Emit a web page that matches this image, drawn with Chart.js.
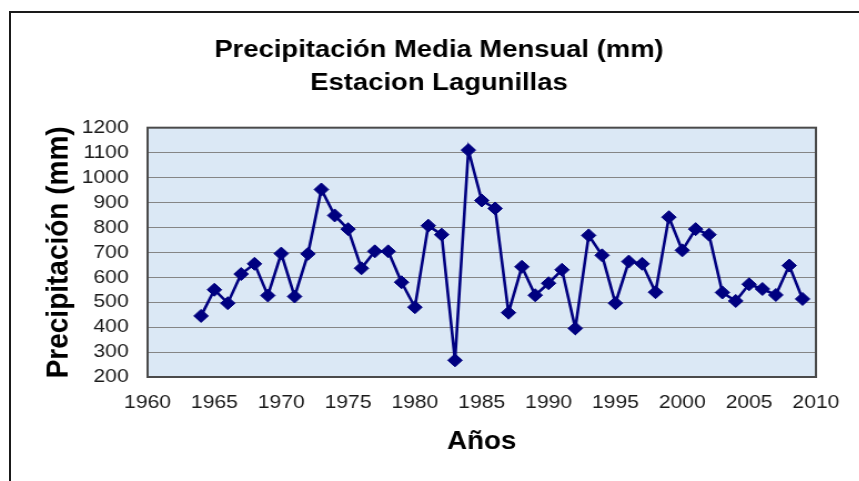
<!DOCTYPE html>
<html lang="es">
<head>
<meta charset="utf-8">
<title>Precipitación Media Mensual (mm) - Estacion Lagunillas</title>
<script src="https://cdn.jsdelivr.net/npm/chart.js@4/dist/chart.umd.min.js"></script>
<style>
  html, body { margin: 0; padding: 0; background: #fff; overflow: hidden; }
  body { width: 859px; height: 481px; position: relative; }
  /* chart object frame, running off the right and bottom of the page */
  #frame {
    position: absolute; left: 9px; top: 11px;
    width: 900px; height: 520px;
    border: 2px solid #1a1a1a;
  }
  #chart { position: absolute; left: 0; top: 0; }
</style>
</head>
<body>
<div id="frame">
  <!-- bitmap is drawn narrower and widened by CSS (wide-font look) -->
  <canvas id="chart" width="771" height="468" style="width:856px;height:468px"></canvas>
</div>
<script>
// Años de la serie
const years = [
  1964, 1965, 1966, 1967, 1968, 1969, 1970, 1971, 1972, 1973,
  1974, 1975, 1976, 1977, 1978, 1979, 1980, 1981, 1982, 1983,
  1984, 1985, 1986, 1987, 1988, 1989, 1990, 1991, 1992, 1993,
  1994, 1995, 1996, 1997, 1998, 1999, 2000, 2001, 2002, 2003,
  2004, 2005, 2006, 2007, 2008, 2009
];

// Precipitación media mensual (mm) por año
const precipitation = [
  445, 550, 496, 613, 654, 527, 695, 523, 694, 952,
  848, 793, 636, 704, 704, 580, 480, 807, 771, 267,
  1110, 908, 876, 458, 642, 528, 576, 630, 395, 768,
  688, 496, 663, 654, 540, 841, 708, 793, 771, 539,
  505, 572, 553, 529, 647, 513
];

// Ejes
const xTicks = { min: 1960, max: 2010, step: 5 };
const yTicks = { min: 200, max: 1200, step: 100 };

const titleLines = ['Precipitación Media Mensual (mm)', 'Estacion Lagunillas'];
const xTitle = 'Años';
const yTitle = 'Precipitación (mm)';

const points = years.map((y, i) => ({ x: y, y: precipitation[i] }));

// Fondo azul claro del área de trazado y su marco
const plotFrame = {
  id: 'plotFrame',
  beforeDraw(chart) {
    const { ctx, chartArea: a } = chart;
    ctx.save();
    ctx.fillStyle = '#dbe8f5';
    ctx.fillRect(a.left, a.top, a.right - a.left, a.bottom - a.top);
    ctx.restore();
  },
  beforeDatasetsDraw(chart) {
    const { ctx, chartArea: a } = chart;
    ctx.save();
    ctx.strokeStyle = '#4a4a4a';
    ctx.lineWidth = 2;
    ctx.strokeRect(a.left, a.top, a.right - a.left, a.bottom - a.top);
    ctx.restore();
  }
};

const FONT = '"Liberation Sans", Arial, sans-serif';

new Chart(document.getElementById('chart'), {
  type: 'line',
  data: {
    datasets: [{
      data: points,
      yAxisID: 'y',
      borderColor: '#000080',
      backgroundColor: '#000080',
      borderWidth: 2.6,
      tension: 0,
      pointStyle: 'rectRot',
      pointRadius: 6.5,
      pointBorderWidth: 1,
      pointBackgroundColor: '#000080',
      pointBorderColor: '#000080',
      fill: false
    }]
  },
  options: {
    responsive: false,
    maintainAspectRatio: false,
    devicePixelRatio: 1,
    animation: false,
    events: [],
    layout: { padding: 0 },
    plugins: {
      legend: { display: false },
      tooltip: { enabled: false },
      title: {
        display: true,
        text: titleLines,
        color: '#000',
        font: { family: FONT, size: 24.7, weight: 'bold', lineHeight: 1.36 },
        padding: { top: 20, bottom: 27.5 }
      }
    },
    scales: {
      x: {
        type: 'linear',
        min: xTicks.min,
        max: xTicks.max,
        afterFit(s) { s.height = 104; },
        grid: { display: false, drawTicks: false },
        border: { display: false },
        ticks: {
          stepSize: xTicks.step,
          autoSkip: false,
          maxRotation: 0,
          padding: 16,
          color: '#1a1a1a',
          font: { family: FONT, size: 19, lineHeight: 1 },
          callback: v => String(v)
        },
        title: {
          display: true,
          text: xTitle,
          color: '#000',
          font: { family: FONT, size: 25, weight: 'bold', lineHeight: 1.2 },
          padding: { top: 0, bottom: 24 }
        }
      },
      y: {
        type: 'linear',
        position: 'left',
        min: yTicks.min,
        max: yTicks.max,
        afterFit(s) { s.width = 123; },
        grid: { color: '#858585', lineWidth: 1, drawTicks: false },
        border: { display: false },
        ticks: {
          stepSize: yTicks.step,
          autoSkip: false,
          maxTicksLimit: 20,
          padding: 17,
          color: '#1a1a1a',
          font: { family: FONT, size: 19, lineHeight: 1 },
          callback: v => String(v)
        },
        title: {
          display: true,
          text: yTitle,
          color: '#000',
          font: { family: FONT, size: 28, weight: 'bold', lineHeight: 1.2 },
          padding: { top: 26, bottom: 0 }
        }
      },
      // empty right-hand margin of the chart object
      yRight: {
        type: 'linear',
        position: 'right',
        min: yTicks.min,
        max: yTicks.max,
        afterFit(s) { s.width = 46; },
        grid: { display: false, drawTicks: false },
        border: { display: false },
        ticks: { display: false }
      }
    }
  },
  plugins: [plotFrame]
});
</script>
</body>
</html>
